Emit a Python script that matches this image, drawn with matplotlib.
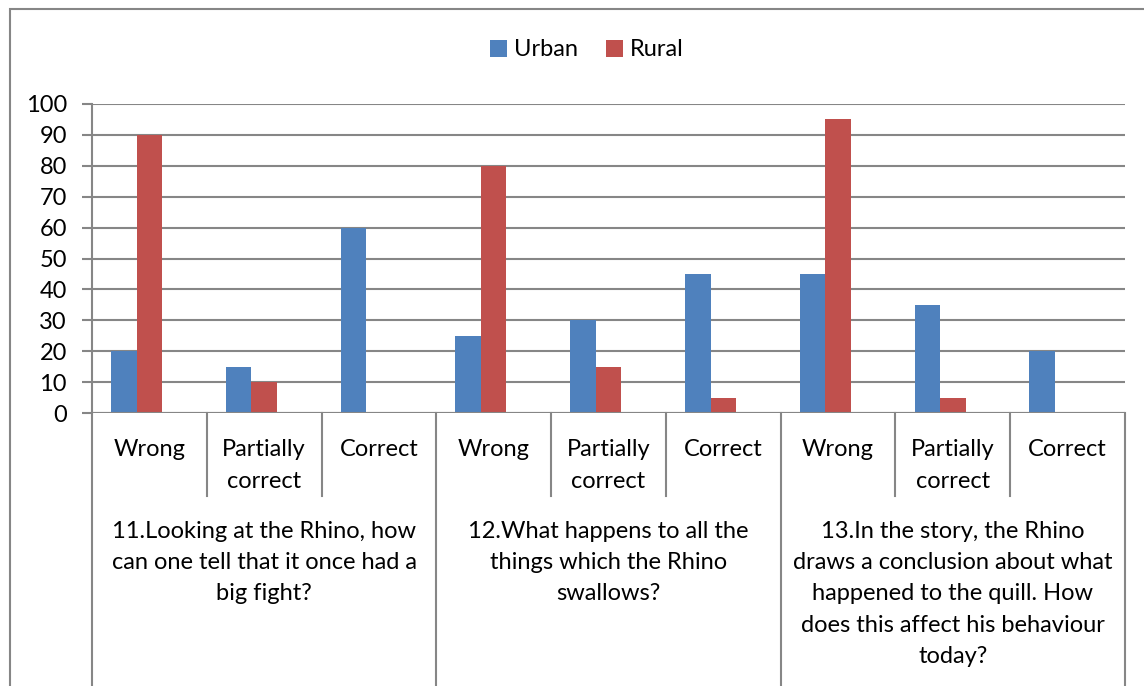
import matplotlib.pyplot as plt
from matplotlib.patches import Rectangle
import numpy as np

plt.rcParams['font.family'] = ['Lato', 'DejaVu Sans']

answers = ['Wrong', 'Partially\ncorrect', 'Correct'] * 3
questions = ['11.Looking at the Rhino, how\ncan one tell that it once had a\nbig fight?',
             '12.What happens to all the\nthings which the Rhino\nswallows?',
             '13.In the story, the Rhino\ndraws a conclusion about what\nhappened to the quill. How\ndoes this affect his behaviour\ntoday?']
urban = [20, 15, 60, 25, 30, 45, 45, 35, 20]
rural = [90, 10, 0, 80, 15, 5, 95, 5, 0]

blue = '#4F81BD'
red = '#C0504D'
grey = '#868686'

fig = plt.figure(figsize=(11.44, 6.86), dpi=100)
# outer chart border (Excel style)
fig.patches.append(Rectangle((10/1144, -0.05), 1.1, 1 - 9/686 + 0.05, transform=fig.transFigure,
                             fill=False, edgecolor=grey, linewidth=1.5))

ax = fig.add_axes([92/1144, 1 - 413/686, (1125 - 92)/1144, (413 - 104)/686])

x = np.arange(len(answers))
w = 1 / 4.5
# Excel left room for a third (empty) series, so the two bars sit left of centre
ax.bar(x - w, urban, w, align='center', color=blue, label='Urban', zorder=3)
ax.bar(x, rural, w, align='center', color=red, label='Rural', zorder=3)

ax.set_xlim(-0.5, len(answers) - 0.5)
ax.set_ylim(0, 100)
ax.set_yticks(range(0, 101, 10))
ax.tick_params(axis='y', labelsize=17, length=7, width=1.5, color=grey, pad=11)
ax.set_xticks([])
ax.yaxis.grid(True, color=grey, linewidth=1.5, zorder=0)
for s in ['top', 'right', 'bottom']:
    ax.spines[s].set_visible(False)
ax.spines['left'].set_color(grey)
ax.spines['left'].set_linewidth(1.5)
ax.axhline(0, color=grey, linewidth=1.5, zorder=4)

# category label table under the axis
tr = ax.get_xaxis_transform()
px = 1 / 309  # axes fraction per pixel
for i in range(len(answers) + 1):
    if i % 3 == 0:
        y_end = -1.0
    else:
        y_end = -(496 - 413) * px
    ax.plot([i - 0.5, i - 0.5], [0, y_end], transform=tr, color=grey, linewidth=1.5, clip_on=False)

for i, a in enumerate(answers):
    ax.text(i, -(439 - 413) * px, a, transform=tr, ha='center', va='top', fontsize=17,
            linespacing=1.63, clip_on=False)

for j, q in enumerate(questions):
    ax.text(3 * j + 1, -(521 - 413) * px, q, transform=tr, ha='center', va='top', fontsize=17,
            linespacing=1.6, clip_on=False)

fig.legend(loc='center', bbox_to_anchor=(587/1144, 1 - 50/686), ncol=2, frameon=False, fontsize=17,
           handlelength=0.7, handleheight=0.7, handletextpad=0.3, columnspacing=1.2)

fig.savefig('out.png', dpi=100)
